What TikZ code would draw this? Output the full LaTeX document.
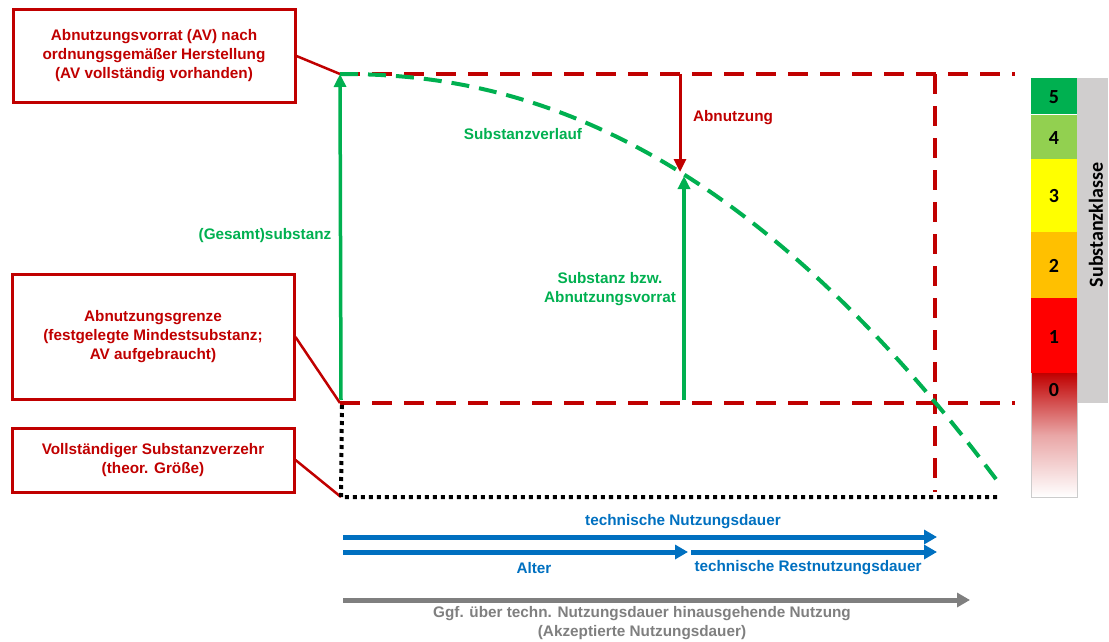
\documentclass[tikz,border=0pt]{standalone}
\usepackage{fontspec}
\setmainfont{Liberation Sans}
\newfontfamily\calfont{Carlito}
\usepackage{xcolor}
\usetikzlibrary{arrows.meta}

\definecolor{avred}{HTML}{C00000}
\definecolor{avgreen}{HTML}{00B050}
\definecolor{avblue}{HTML}{0070C0}
\definecolor{avgray}{HTML}{7F7F7F}
\definecolor{klasse5}{HTML}{00B050}
\definecolor{klasse4}{HTML}{92D050}
\definecolor{klasse3}{HTML}{FFFF00}
\definecolor{klasse2}{HTML}{FFC000}
\definecolor{klasse1}{HTML}{FF0000}
\definecolor{klassebar}{HTML}{D0CECE}

\begin{document}
\begin{tikzpicture}[x=1pt, y=-1pt, font=\fontsize{15.3}{19}\selectfont\bfseries]
    % Define the styles
    \tikzstyle{box} = [rectangle, draw=avred, line width=3pt, text=avred, align=center, minimum width=282pt]
    \tikzstyle{leader} = [draw=avred, line width=2.5pt]
    \tikzstyle{limit} = [draw=avred, line width=4pt, dash pattern=on 20pt off 12pt]
    \tikzstyle{zero} = [draw=black, line width=4pt, dash pattern=on 4pt off 4pt]
    \tikzstyle{gline} = [draw=avgreen, line width=3.5pt, -{Triangle[length=13pt,width=12pt]}]
    \tikzstyle{bline} = [draw=avblue, line width=5pt, -{Triangle[length=13pt,width=14pt]}]
    \tikzstyle{label} = [align=center, inner sep=1pt]
    \tikzstyle{klasse} = [font=\calfont\fontsize{20}{20}\selectfont\bfseries, inner sep=0pt]

    \useasboundingbox (0,0) rectangle (1109,642);

    % Corner points of the diagram
    \coordinate (avtop) at (340,74);
    \coordinate (avbot) at (340,403);
    \coordinate (nullpt) at (341,497);
    \coordinate (rtop) at (1015,74);
    \coordinate (rbot) at (1015,403);
    \coordinate (ndtop) at (935,74);
    \coordinate (ndbot) at (935,492);
    \coordinate (nullend) at (1000,497);
    \coordinate (abtop) at (680,74);
    \coordinate (abpt) at (680,172);
    \coordinate (svbot) at (684,400);
    \coordinate (svtop) at (684,176);
    \coordinate (gesbot) at (341,400);

    % Boxes on the left
    \node [box, minimum height=92pt] (avbox) at (154,56) {Abnutzungsvorrat (AV) nach\\ordnungsgemäßer Herstellung\\(AV vollständig vorhanden)};
    \node [box, minimum height=125pt] (grenzebox) at (153,337) {Abnutzungsgrenze\\(festgelegte Mindestsubstanz;\\AV aufgebraucht)};
    \node [box, minimum height=64pt] (verzehrbox) at (153,460) {Vollständiger Substanzverzehr\\(theor. Größe)};

    % Leader lines
    \draw [leader] (avbox.east) -- (avtop);
    \draw [leader] (grenzebox.east) -- (avbot);
    \draw [leader] (verzehrbox.east) -- (nullpt);

    % Limits
    \draw [zero] (342,405) -- (nullpt) -- (nullend);
    \draw [limit] (avtop) -- (rtop);
    \draw [limit] (avbot) -- (rbot);
    \draw [limit] (ndtop) -- (ndbot);

    % Substance curve
    \draw [draw=avgreen, line width=4pt, dash pattern=on 18pt off 10pt] plot[domain=340:998, samples=80] (\x, {74+98*pow((\x-340)/340,2.16)});

    % Arrows in the diagram
    \draw [gline] (gesbot) -- (avtop);
    \draw [gline] (svbot) -- (svtop);
    \draw [draw=avred, line width=3pt, -{Triangle[length=13pt,width=12pt]}] (abtop) -- (abpt);

    \node [label, text=avgreen] (gesamt) at (265,236) {(Gesamt)substanz};
    \node [label, text=avgreen] (verlauf) at (523,134) {Substanzverlauf};
    \node [label, text=avgreen] (substanz) at (610,289) {Substanz bzw.\\Abnutzungsvorrat};
    \node [label, text=avred] (abnutzung) at (733,118) {Abnutzung};

    % Time axes
    \coordinate (tstart) at (343,537);
    \coordinate (tend) at (937,537);
    \coordinate (astart) at (343,552);
    \coordinate (aend) at (688,552);
    \coordinate (rstart) at (691,552);
    \coordinate (rend) at (937,552);
    \coordinate (gstart) at (343,600);
    \coordinate (gend) at (970,600);
    \draw [bline] (tstart) -- (tend);
    \draw [bline] (astart) -- (aend);
    \draw [bline] (rstart) -- (rend);
    \draw [draw=avgray, line width=5pt, -{Triangle[length=13pt,width=14pt]}] (gstart) -- (gend);

    \node [label, text=avblue] (nd) at (683,522) {technische Nutzungsdauer};
    \node [label, text=avblue] (alter) at (534,568) {Alter};
    \node [label, text=avblue] (rnd) at (808,568) {technische Restnutzungsdauer};
    \node [label, text=avgray] (akzeptiert) at (642,623) {Ggf. über techn. Nutzungsdauer hinausgehende Nutzung\\(Akzeptierte Nutzungsdauer)};

    % Scale of classes
    \fill [klassebar] (1077,78) rectangle (1108,403);
    \shade [top color=avred, bottom color=white, middle color=avred!35] (1031,373) rectangle (1077,497);
    \draw [black!20, line width=0.6pt] (1031,373) -- (1031,497) -- (1077,497) -- (1077,403);
    \fill [klasse1] (1031,298) rectangle (1077,373);
    \fill [klasse2] (1031,232) rectangle (1077,298);
    \fill [klasse3] (1031,159) rectangle (1077,232);
    \fill [klasse4] (1031,115) rectangle (1077,159);
    \fill [klasse5] (1031,78) rectangle (1077,114);
    \foreach \k/\y in {5/97, 4/138, 3/196, 2/266, 1/337, 0/390}
        \node [klasse] (k\k) at (1054,\y) {\k};
    \node [klasse, rotate=90] (klassen) at (1096,225) {Substanzklasse};
\end{tikzpicture}
\end{document}
